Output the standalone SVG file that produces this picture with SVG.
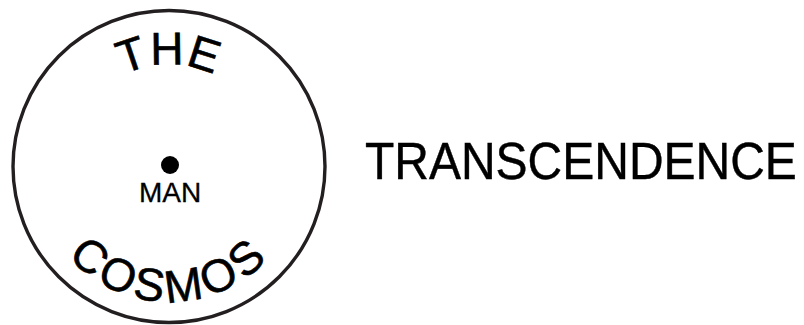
<svg xmlns="http://www.w3.org/2000/svg" width="804" height="325" viewBox="0 0 804 325">
<defs>
<style>
.t{font-family:"Liberation Sans",Arial,Helvetica,sans-serif;fill:#000;stroke:#000;stroke-width:0.6}
</style>
<path id="topArc" d="M 67 166.5 A 102 102 0 0 1 271 166.5" fill="none"/>
<path id="botArc" d="M 33.5 166.5 A 135.5 135.5 0 0 0 304.5 166.5" fill="none"/>
</defs>
<rect width="804" height="325" fill="#fff"/>
<g id="cosmos">
<circle cx="169" cy="166.5" r="156" fill="none" stroke="#231f20" stroke-width="3.4"/>
<text class="t" font-size="46" letter-spacing="1"><textPath href="#topArc" startOffset="50%" text-anchor="middle">THE</textPath></text>
<text class="t" font-size="46" letter-spacing="4"><textPath href="#botArc" startOffset="50%" text-anchor="middle">COSMOS</textPath></text>
</g>
<g id="man">
<circle cx="170" cy="165" r="9" fill="#000"/>
<text class="t" x="170" y="202" font-size="28" text-anchor="middle" style="stroke-width:0.3">MAN</text>
</g>
<g id="transcendence">
<text class="t" x="365" y="179" font-size="48" transform="translate(0,179) scale(1,1.08) translate(0,-179)" style="stroke-width:0.4">TRANSCENDENCE</text>
</g>
<g id="connectors"></g>
</svg>
